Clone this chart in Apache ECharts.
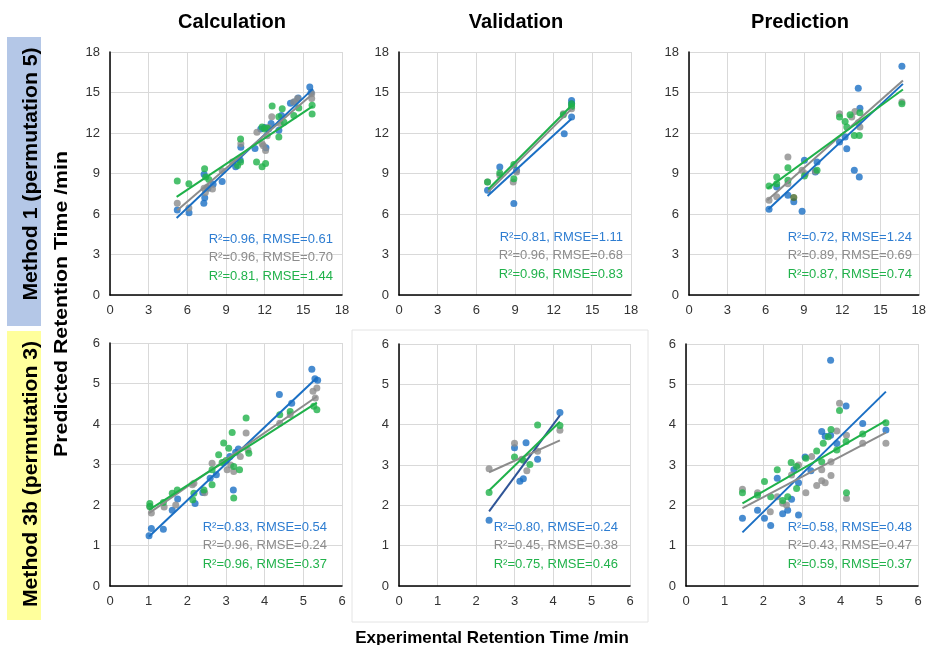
<!DOCTYPE html>
<html>
<head>
<meta charset="utf-8">
<script src="https://cdn.jsdelivr.net/npm/echarts@6/dist/echarts.min.js"></script>
<style>
html,body{margin:0;padding:0;background:#fff;}
#chart{width:929px;height:645px;}
</style>
</head>
<body>
<div id="chart"></div>
<script>
/* ===== data ===== */

const colTitles=["Calculation","Validation","Prediction"];
const rowTitles=["Method 1 (permutation 5)","Method 3b (permutation 3)"];
const ticksTop=[0,3,6,9,12,15,18];
const ticksBottom=[0,1,2,3,4,5,6];

// Method 1 - Calculation
const calc1Blue=[[5.22,6.3],[6.13,6.1],[7.28,6.8],[7.35,7.2],[7.3,8.95],[8.7,8.4],[9.75,9.5],[10.1,10.0],[10.15,10.95],[11.25,10.85],[11.7,12.3],[12.1,10.9],[12.0,12.4],[12.5,12.7],[13.1,12.2],[13.3,13.3],[14.0,14.2],[14.6,14.6],[15.5,15.4],[15.6,15.0],[7.6,7.9],[8.0,8.2],[12.3,12.3],[14.3,14.3]];
const calc1Gray=[[5.22,6.8],[6.12,6.45],[7.3,7.9],[7.55,8.0],[7.95,7.85],[8.7,9.2],[9.5,9.85],[10.15,11.2],[11.4,12.05],[11.8,11.2],[11.9,11.05],[12.07,10.7],[12.2,11.8],[12.55,13.2],[13.2,12.7],[14.25,14.3],[14.55,14.55],[15.65,14.55],[15.65,14.9],[7.4,7.6],[12.3,12.4]];
const calc1Green=[[5.22,8.45],[6.12,8.25],[7.34,9.35],[7.42,8.75],[7.67,8.55],[10.13,11.55],[10.13,9.85],[11.37,9.85],[11.8,12.45],[11.8,9.5],[12.07,9.75],[12.2,12.35],[12.58,14.0],[13.1,13.2],[13.1,11.7],[13.36,13.8],[13.5,12.8],[14.26,13.3],[14.65,13.85],[15.68,14.05],[15.68,13.4],[12.0,12.3],[9.9,9.6]];
const calc1Fit=[[[5.17,5.7],[15.74,15.27]],[[5.22,6.28],[15.74,14.9]],[[5.17,7.27],[15.74,13.99]]];
const calc1Stats=["R²=0.96, RMSE=0.61","R²=0.96, RMSE=0.70","R²=0.81, RMSE=1.44"];

// Method 1 - Validation
const val1Blue=[[6.87,7.76],[7.82,9.48],[8.91,6.77],[9.12,9.24],[12.82,11.95],[13.39,14.41],[13.39,13.18],[13.39,14.16]];
const val1Gray=[[6.87,8.37],[7.82,8.87],[8.86,8.37],[9.12,9.11],[12.75,13.42],[13.39,13.79]];
const val1Green=[[6.87,8.37],[7.82,9.04],[8.91,8.62],[8.91,9.66],[12.75,13.35],[13.39,14.16],[13.39,13.97]];
const val1Fit=[[[6.87,7.34],[13.39,13.05]],[[6.92,7.64],[13.39,13.79]],[[6.92,7.83],[13.39,14.04]]];
const val1Stats=["R²=0.81, RMSE=1.11","R²=0.96, RMSE=0.68","R²=0.96, RMSE=0.83"];

// Method 1 - Prediction
const pred1Blue=[[6.27,6.35],[6.87,8.0],[7.75,7.39],[8.21,6.9],[8.86,6.21],[9.04,9.98],[9.9,9.11],[10.03,9.85],[11.79,11.33],[12.23,11.7],[12.36,10.84],[12.95,9.24],[13.34,8.74],[13.26,15.32],[13.39,13.84],[16.68,16.95]];
const pred1Gray=[[6.27,7.02],[6.87,7.27],[7.75,10.22],[7.75,8.25],[8.86,9.24],[9.12,8.99],[9.9,9.16],[11.79,13.42],[12.75,13.18],[13.0,13.6],[13.26,12.76],[13.39,12.44],[16.68,14.29]];
const pred1Green=[[6.27,8.08],[6.87,8.74],[6.87,8.25],[7.75,9.43],[7.75,8.5],[9.04,8.82],[10.03,9.24],[11.79,13.18],[12.23,12.86],[12.36,12.44],[12.62,13.35],[12.95,11.82],[13.34,11.82],[13.39,13.5],[16.68,14.16]];
const pred1Olive=[[8.21,7.22]];
const pred1Fit=[[[6.22,6.35],[16.76,15.64]],[[6.14,7.02],[16.76,15.89]],[[6.14,7.88],[16.76,15.22]]];
const pred1Stats=["R²=0.72, RMSE=1.24","R²=0.89, RMSE=0.69","R²=0.87, RMSE=0.74"];

// Method 3b - Calculation
const calc3Blue=[[1.01,1.24],[1.07,1.42],[1.38,1.40],[1.61,1.87],[2.2,2.04],[2.4,2.31],[2.59,2.66],[3.19,2.37],[3.32,3.38],[3.1,3.2],[2.75,2.75],[4.38,4.73],[4.7,4.51],[5.22,5.35],[5.3,5.12],[5.37,5.08],[1.75,2.15],[3.25,3.3]];
const calc3Gray=[[1.03,1.96],[1.07,1.8],[1.7,2.0],[2.17,2.54],[2.13,2.5],[2.64,3.03],[2.94,3.05],[3.03,2.87],[3.12,2.99],[3.2,2.83],[3.37,3.2],[3.52,3.78],[3.57,3.36],[4.39,4.02],[4.66,4.23],[5.25,4.81],[5.31,4.64],[5.35,4.89],[1.4,1.95],[2.45,2.3]];
const calc3Green=[[1.03,2.04],[1.03,1.96],[1.38,2.06],[1.61,2.29],[1.74,2.37],[2.14,2.13],[2.17,2.29],[2.43,2.37],[2.64,2.5],[2.64,2.87],[2.81,3.24],[2.94,3.53],[3.07,3.4],[3.16,3.79],[3.2,2.95],[3.2,2.17],[3.35,2.87],[3.52,4.15],[3.59,3.28],[4.39,4.23],[4.66,4.31],[5.27,4.44],[5.35,4.35],[2.9,3.05],[3.0,3.1]];
const calc3Fit=[[[1.01,1.22],[5.35,5.14]],[[1.01,1.8],[5.35,4.68]],[[1.01,1.88],[5.35,4.53]]];
const calc3Stats=["R²=0.83, RMSE=0.54","R²=0.96, RMSE=0.24","R²=0.96, RMSE=0.37"];

// Method 3b - Validation
const val3Blue=[[2.34,1.63],[3.0,3.43],[3.3,3.55],[3.14,2.6],[3.23,2.66],[3.6,3.14],[4.18,4.3]];
const val3Gray=[[2.34,2.91],[3.0,3.54],[3.32,2.86],[3.6,3.34],[4.18,3.86],[3.19,3.14]];
const val3Green=[[2.34,2.32],[3.0,3.2],[3.4,3.01],[3.6,3.99],[4.18,3.98],[3.23,3.12]];
const val3Fit=[[[2.34,1.85],[4.18,4.23]],[[2.34,2.82],[4.18,3.61]],[[2.34,2.37],[4.18,4.07]]];
const val3Stats=["R²=0.80, RMSE=0.24","R²=0.45, RMSE=0.38","R²=0.75, RMSE=0.46"];

// Method 3b - Prediction
const pred3Blue=[[1.46,1.68],[1.85,1.88],[2.03,1.68],[2.19,1.5],[2.36,2.67],[2.5,1.79],[2.63,1.88],[2.73,2.15],[2.79,2.88],[2.91,2.56],[2.91,1.76],[3.08,3.2],[3.23,2.86],[3.51,3.83],[3.6,3.71],[3.74,3.74],[3.74,5.6],[3.9,3.53],[4.14,4.46],[4.57,4.03],[5.17,3.87]];
const pred3Gray=[[1.46,2.4],[1.85,2.31],[2.18,1.84],[2.36,2.21],[2.5,2.05],[2.6,2.01],[2.73,2.75],[2.91,3.0],[3.1,2.31],[3.25,3.21],[3.38,2.49],[3.51,2.88],[3.51,2.61],[3.6,2.56],[3.75,2.74],[3.75,3.08],[3.9,3.84],[3.97,4.53],[4.15,2.17],[4.15,3.74],[4.57,3.54],[5.17,3.54]];
const pred3Green=[[1.46,2.31],[1.85,2.25],[2.03,2.59],[2.19,2.21],[2.36,2.88],[2.5,2.12],[2.63,2.21],[2.72,3.06],[2.86,2.96],[2.86,2.42],[3.1,3.17],[3.38,3.35],[3.51,3.08],[3.55,3.54],[3.68,3.7],[3.75,3.88],[3.9,3.37],[3.97,4.35],[4.14,3.58],[4.15,2.31],[4.57,3.77],[5.17,4.05]];
const pred3Fit=[[[1.46,1.33],[5.17,4.82]],[[1.46,1.93],[5.17,3.8]],[[1.46,2.05],[5.17,4.1]]];
const pred3Stats=["R²=0.58, RMSE=0.48","R²=0.43, RMSE=0.47","R²=0.59, RMSE=0.37"];


/* ===== layout / style ===== */

const BLUE="#1a6fc4", GRAY="#8c8c8c", GREEN="#1fb14a";
const STAT_COLORS=["#2e7dd1","#8c8c8c","#21b24b"];

const panels=[
{box:[110,52,232,243],ticks:ticksTop,pts:[calc1Blue,calc1Gray,calc1Green],fit:calc1Fit,stats:calc1Stats,sx:333,sy:239},
{box:[399,52,232,243],ticks:ticksTop,pts:[val1Blue,val1Gray,val1Green],fit:val1Fit,stats:val1Stats,sx:623,sy:237},
{box:[689,52,232,243],ticks:ticksTop,pts:[pred1Blue,pred1Gray,pred1Green],fit:pred1Fit,stats:pred1Stats,sx:912,sy:237,extra:[pred1Olive,"#4b6b2b"]},
{box:[110,343,232,243],ticks:ticksBottom,pts:[calc3Blue,calc3Gray,calc3Green],fit:calc3Fit,stats:calc3Stats,sx:327,sy:527},
{box:[399,344,231,242],ticks:ticksBottom,pts:[val3Blue,val3Gray,val3Green],fit:val3Fit,stats:val3Stats,sx:618,sy:527,fitBlue:"#2f5597"},
{box:[686,344,232,242],ticks:ticksBottom,pts:[pred3Blue,pred3Gray,pred3Green],fit:pred3Fit,stats:pred3Stats,sx:912,sy:527}
];

const FONT="Liberation Sans, Arial, sans-serif";

let grid=[],xAxis=[],yAxis=[],series=[],graphic=[];

panels.forEach((p,i)=>{

let t=p.ticks;
let step=t[1]-t[0];

grid.push({left:p.box[0],top:p.box[1],width:p.box[2],height:p.box[3]});

let ax={
gridIndex:i,type:"value",min:t[0],max:t[t.length-1],interval:step,
axisLine:{show:true,onZero:false,lineStyle:{color:"#000",width:1.5}},
axisTick:{show:false},
splitLine:{show:true,lineStyle:{color:"#d9d9d9",width:1}},
axisLabel:{color:"#333",fontSize:13,fontFamily:FONT,margin:9}
};

xAxis.push(Object.assign({},ax));
yAxis.push(Object.assign({},ax,{axisLabel:Object.assign({},ax.axisLabel,{margin:10})}));

[BLUE,GRAY,GREEN].forEach((c,k)=>{
series.push({
type:"scatter",xAxisIndex:i,yAxisIndex:i,
data:p.pts[k],symbolSize:7,
itemStyle:{color:c},
silent:true,z:2
});
});

if(p.extra){
series.push({
type:"scatter",xAxisIndex:i,yAxisIndex:i,
data:p.extra[0],symbolSize:7,
itemStyle:{color:p.extra[1]},
silent:true,z:2
});
}

[BLUE,GRAY,GREEN].forEach((c,k)=>{
if(k==0&&p.fitBlue)c=p.fitBlue;
series.push({
type:"line",xAxisIndex:i,yAxisIndex:i,
data:p.fit[k],showSymbol:false,
lineStyle:{color:c,width:2},
silent:true,z:3
});
});

p.stats.forEach((s,k)=>{
graphic.push({
type:"text",x:p.sx,y:p.sy+k*18.5,
style:{text:s,fill:STAT_COLORS[k],font:"13px "+FONT,textAlign:"right",textVerticalAlign:"middle"},
z:10
});
});

});


// column titles
[232,516,800].forEach((x,i)=>{
graphic.push({
type:"text",x:x,y:22,
style:{text:colTitles[i],fill:"#000",font:"bold 20px "+FONT,textAlign:"center",textVerticalAlign:"middle"}
});
});

// faint frame round the lower middle chart
graphic.push({type:"rect",shape:{x:352,y:330,width:296,height:292},style:{fill:"none",stroke:"#e4e4e4",lineWidth:1}});

// row bands
graphic.push({type:"rect",shape:{x:7,y:37,width:34,height:289},style:{fill:"#b4c7e7"}});
graphic.push({type:"rect",shape:{x:7,y:331,width:34,height:289},style:{fill:"#ffff9c"}});

[174,474].forEach((y,i)=>{
graphic.push({
type:"text",x:31,y:y,rotation:Math.PI/2,scaleX:1.06,
style:{text:rowTitles[i],fill:"#000",font:"bold 20px "+FONT,textAlign:"center",textVerticalAlign:"middle"}
});
});

// axis titles
graphic.push({
type:"text",x:62,y:304,rotation:Math.PI/2,scaleX:1.12,
style:{text:"Predicted Retention Time /min",fill:"#000",font:"bold 19px "+FONT,textAlign:"center",textVerticalAlign:"middle"}
});

graphic.push({
type:"text",x:492,y:638,
style:{text:"Experimental Retention Time /min",fill:"#000",font:"bold 17px "+FONT,textAlign:"center",textVerticalAlign:"middle"}
});


let chart=echarts.init(document.getElementById("chart"));

chart.setOption({
animation:false,
backgroundColor:"#fff",
grid:grid,
xAxis:xAxis,
yAxis:yAxis,
series:series,
graphic:graphic
});
</script>
</body>
</html>
